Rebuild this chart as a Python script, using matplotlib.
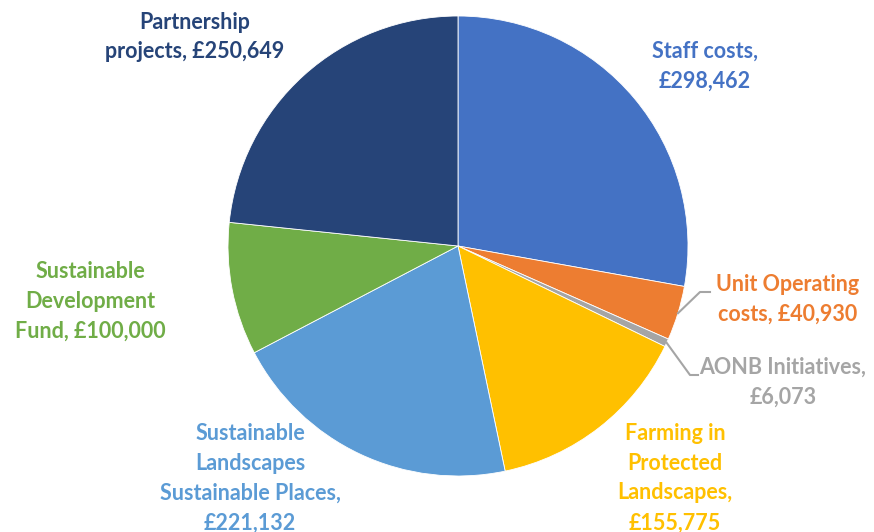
import numpy as np
import matplotlib.pyplot as plt

# Budget breakdown
labels = ["Staff costs,\n£298,462", "Unit Operating\ncosts, £40,930", "AONB Initiatives,\n£6,073",
          "Farming in\nProtected\nLandscapes,\n£155,775", "Sustainable\nLandscapes\nSustainable Places,\n£221,132",
          "Sustainable\nDevelopment\nFund, £100,000", "Partnership\nprojects, £250,649"]
values = [298462, 40930, 6073, 155775, 221132, 100000, 250649]
colors = ["#4472C4", "#ED7D31", "#A5A5A5", "#FFC000", "#5B9BD5", "#70AD47", "#264478"]

# label centres in pixel coords (from top-left)
label_pos = [(705, 66), (788, 299), (783, 382), (675, 478), (250, 478), (90, 301), (195, 37)]
elbows = [None, (700, 292), (690, 375), None, None, None, None]
elbow_end = [None, (710, 292), (698, 375), None, None, None, None]

W, H = 874, 532
cx, cy, r = 458, 246, 230

fig = plt.figure(figsize=(W / 100, H / 100), dpi=100)
ax = fig.add_axes([0, 0, 1, 1])

wedges, _ = ax.pie(values, colors=colors, startangle=90, counterclock=False,
                   center=(cx, H - cy), radius=r, frame=True,
                   wedgeprops=dict(edgecolor="white", linewidth=0.6))
ax.set_xlim(0, W)
ax.set_ylim(0, H)
ax.set_aspect("equal")
ax.axis("off")

for i, w in enumerate(wedges):
    lx, ly = label_pos[i]
    ax.text(lx, H - ly, labels[i], ha="center", va="center", color=colors[i],
            fontsize=15.5, fontweight="bold", family="Lato", linespacing=1.52)
    if elbows[i] is not None:
        mid = np.deg2rad((w.theta1 + w.theta2) / 2)
        sx = cx + r * np.cos(mid)
        sy = (H - cy) + r * np.sin(mid)
        ex, ey = elbows[i]
        fx, fy = elbow_end[i]
        ax.plot([sx, ex, fx], [sy, H - ey, H - fy], color="#A5A5A5", linewidth=1.5)

fig.savefig("out.png", dpi=100)
